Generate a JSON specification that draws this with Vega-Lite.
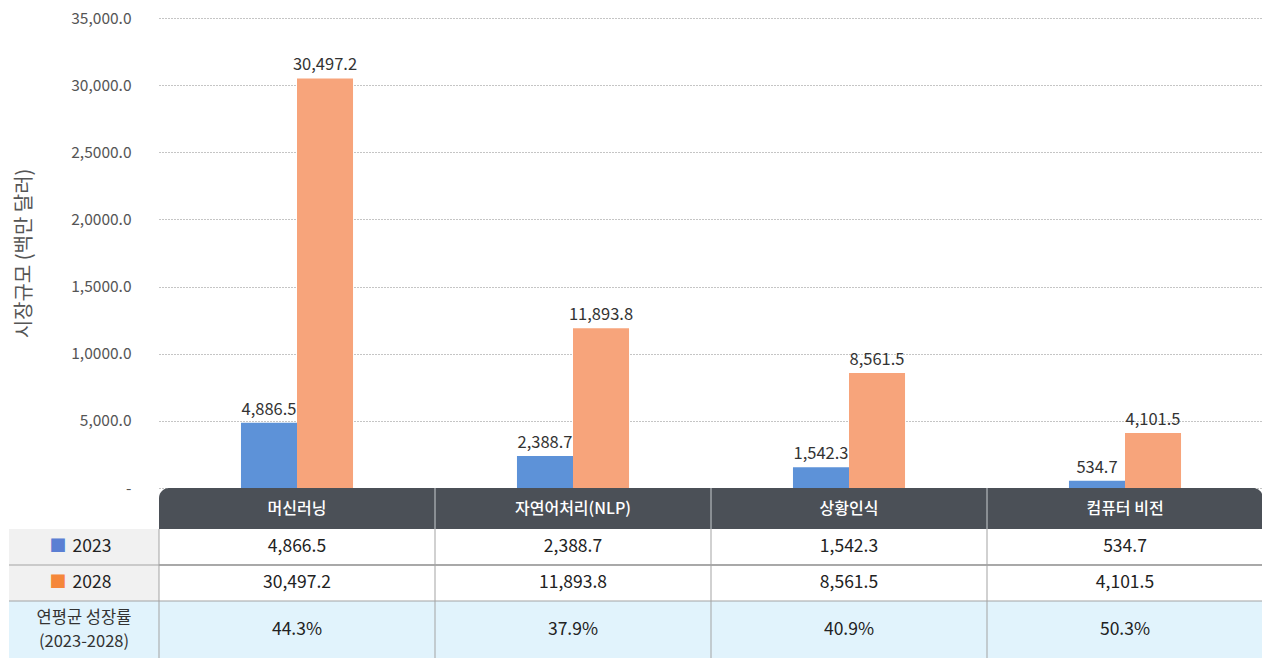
{
  "$schema": "https://vega.github.io/schema/vega-lite/v6.json",
  "padding": {"left": 8, "top": 11, "right": 0, "bottom": 0},
  "background": "white",
  "config": {
    "font": "Noto Sans CJK KR",
    "view": {"stroke": null},
    "concat": {"spacing": 0}
  },
  "datasets": {
    "bars": [
      {"cat": "머신러닝", "year": "2023", "value": 4866.5, "label": "4,886.5"},
      {"cat": "머신러닝", "year": "2028", "value": 30497.2, "label": "30,497.2"},
      {"cat": "자연어처리(NLP)", "year": "2023", "value": 2388.7, "label": "2,388.7"},
      {"cat": "자연어처리(NLP)", "year": "2028", "value": 11893.8, "label": "11,893.8"},
      {"cat": "상황인식", "year": "2023", "value": 1542.3, "label": "1,542.3"},
      {"cat": "상황인식", "year": "2028", "value": 8561.5, "label": "8,561.5"},
      {"cat": "컴퓨터 비전", "year": "2023", "value": 534.7, "label": "534.7"},
      {"cat": "컴퓨터 비전", "year": "2028", "value": 4101.5, "label": "4,101.5"}
    ],
    "cats": [
      {"cat": "머신러닝"}, {"cat": "자연어처리(NLP)"}, {"cat": "상황인식"}, {"cat": "컴퓨터 비전"}
    ],
    "cagr": [
      {"cat": "머신러닝", "row": "CAGR", "rate": "44.3%"},
      {"cat": "자연어처리(NLP)", "row": "CAGR", "rate": "37.9%"},
      {"cat": "상황인식", "row": "CAGR", "rate": "40.9%"},
      {"cat": "컴퓨터 비전", "row": "CAGR", "rate": "50.3%"}
    ],
    "rowlabels": [
      {"year": "2023"}, {"year": "2028"}
    ],
    "cagrlabel": [
      {"row": "CAGR", "label": "연평균 성장률\n(2023-2028)"}
    ]
  },
  "columns": 2,
  "spacing": 0,
  "bounds": "flush",
  "resolve": {"scale": {"x": "independent", "y": "independent", "color": "independent"}},
  "concat": [
    {
      "width": 150, "height": 470,
      "data": {"name": "rowlabels"},
      "mark": {"type": "text", "text": " ", "opacity": 0},
      "encoding": {}
    },
    {
      "width": 1104, "height": 470,
      "data": {"name": "bars"},
      "encoding": {
        "x": {"field": "cat", "type": "nominal", "scale": {"domain": ["머신러닝", "자연어처리(NLP)", "상황인식", "컴퓨터 비전"], "paddingInner": 0.594, "paddingOuter": 0.297}, "axis": null},
        "xOffset": {"field": "year", "type": "nominal", "scale": {"domain": ["2023", "2028"], "paddingInner": 0, "paddingOuter": 0}},
        "y": {
          "field": "value", "type": "quantitative",
          "scale": {"domain": [0, 35000], "nice": false},
          "axis": {
            "values": [0, 5000, 10000, 15000, 20000, 25000, 30000, 35000],
            "labelExpr": "datum.value == 0 ? '-' : datum.value == 5000 ? '5,000.0' : datum.value == 10000 ? '1,0000.0' : datum.value == 15000 ? '1,5000.0' : datum.value == 20000 ? '2,0000.0' : datum.value == 25000 ? '2,5000.0' : datum.value == 30000 ? '30,000.0' : '35,000.0'",
            "grid": true, "gridDash": [1, 2], "gridColor": "#8a8a8a", "gridWidth": 1,
            "domain": false, "ticks": false,
            "labelPadding": 28, "labelColor": "#555555", "labelFontSize": 15.5,
            "title": "시장규모 (백만 달러)", "titleFontSize": 20, "titleColor": "#555555", "titleFontWeight": "normal", "titlePadding": 36
          }
        }
      },
      "layer": [
        {
          "mark": {"type": "bar"},
          "encoding": {
            "color": {"field": "year", "type": "nominal", "scale": {"domain": ["2023", "2028"], "range": ["#5d92d8", "#f7a47b"]}, "legend": null}
          }
        },
        {
          "mark": {"type": "text", "baseline": "bottom", "dy": -5, "fontSize": 16.5, "color": "#333333"},
          "encoding": {"text": {"field": "label"}}
        }
      ]
    },
    {
      "width": 150, "height": 41,
      "data": {"name": "rowlabels"},
      "mark": {"type": "text", "text": " ", "opacity": 0},
      "encoding": {}
    },
    {
      "width": 1104, "height": 41,
      "data": {"name": "cats"},
      "encoding": {
        "x": {"field": "cat", "type": "nominal", "scale": {"domain": ["머신러닝", "자연어처리(NLP)", "상황인식", "컴퓨터 비전"], "paddingInner": 0, "paddingOuter": 0}, "axis": null}
      },
      "layer": [
        {"transform": [{"filter": "datum.cat == '머신러닝'"}], "mark": {"type": "rect", "color": "#4b5057", "cornerRadiusTopLeft": 10}},
        {"transform": [{"filter": "datum.cat != '머신러닝' && datum.cat != '컴퓨터 비전'"}], "mark": {"type": "rect", "color": "#4b5057"}},
        {"transform": [{"filter": "datum.cat == '컴퓨터 비전'"}], "mark": {"type": "rect", "color": "#4b5057", "cornerRadiusTopRight": 10}},
        {"transform": [{"filter": "datum.cat != '머신러닝'"}], "mark": {"type": "rule", "color": "#c9cdd1", "strokeWidth": 1},
         "encoding": {"x": {"field": "cat", "type": "nominal", "bandPosition": 0}}},
        {"mark": {"type": "text", "color": "white", "fontSize": 16, "fontWeight": 500}, "encoding": {"text": {"field": "cat"}}}
      ]
    },
    {
      "width": 150, "height": 72,
      "data": {"name": "rowlabels"},
      "encoding": {
        "y": {"field": "year", "type": "nominal", "scale": {"domain": ["2023", "2028"], "paddingInner": 0, "paddingOuter": 0}, "axis": null}
      },
      "layer": [
        {"mark": {"type": "rect", "color": "#f1f1f1"}},
        {"transform": [{"filter": "datum.year == '2028'"}], "mark": {"type": "rule", "color": "#a3a3a3", "strokeWidth": 1},
         "encoding": {"y": {"field": "year", "type": "nominal", "bandPosition": 0}}},
        {"mark": {"type": "text", "text": "■", "fontSize": 17, "dx": -26},
         "encoding": {"color": {"condition": {"test": "datum.year == '2023'", "value": "#5b7fd3"}, "value": "#f5873a"}}},
        {"mark": {"type": "text", "fontSize": 17.5, "color": "#222222", "dx": 8}, "encoding": {"text": {"field": "year"}}}
      ]
    },
    {
      "width": 1104, "height": 72,
      "data": {"name": "bars"},
      "encoding": {
        "x": {"field": "cat", "type": "nominal", "scale": {"domain": ["머신러닝", "자연어처리(NLP)", "상황인식", "컴퓨터 비전"], "paddingInner": 0, "paddingOuter": 0}, "axis": null},
        "y": {"field": "year", "type": "nominal", "scale": {"domain": ["2023", "2028"], "paddingInner": 0, "paddingOuter": 0}, "axis": null}
      },
      "layer": [
        {"mark": {"type": "rect", "color": "white"}},
        {"transform": [{"filter": "datum.year == '2028'"}], "mark": {"type": "rule", "color": "#a3a3a3", "strokeWidth": 1},
         "encoding": {"x": null, "y": {"field": "year", "type": "nominal", "bandPosition": 0}}},
        {"transform": [{"filter": "datum.year == '2023'"}], "mark": {"type": "rule", "color": "#a3a3a3", "strokeWidth": 1},
         "encoding": {"y": null, "x": {"field": "cat", "type": "nominal", "bandPosition": 0}}},
        {"mark": {"type": "text", "fontSize": 17.5, "color": "#222222"}, "encoding": {"text": {"field": "value", "type": "quantitative", "format": ",.1f"}}}
      ]
    },
    {
      "width": 150, "height": 57,
      "data": {"name": "cagrlabel"},
      "encoding": {
        "y": {"field": "row", "type": "nominal", "scale": {"paddingInner": 0, "paddingOuter": 0}, "axis": null}
      },
      "layer": [
        {"mark": {"type": "rect", "color": "#e1f3fc"}},
        {"mark": {"type": "rule", "color": "#a3a3a3", "strokeWidth": 1},
         "encoding": {"y": {"field": "row", "type": "nominal", "bandPosition": 0}}},
        {"mark": {"type": "text", "fontSize": 16.5, "color": "#333333", "lineBreak": "\n", "lineHeight": 24, "dy": -12}, "encoding": {"text": {"field": "label"}}}
      ]
    },
    {
      "width": 1104, "height": 57,
      "data": {"name": "cagr"},
      "encoding": {
        "x": {"field": "cat", "type": "nominal", "scale": {"domain": ["머신러닝", "자연어처리(NLP)", "상황인식", "컴퓨터 비전"], "paddingInner": 0, "paddingOuter": 0}, "axis": null},
        "y": {"field": "row", "type": "nominal", "scale": {"paddingInner": 0, "paddingOuter": 0}, "axis": null}
      },
      "layer": [
        {"mark": {"type": "rect", "color": "#e1f3fc"}},
        {"transform": [{"filter": "datum.cat == '머신러닝'"}], "mark": {"type": "rule", "color": "#a3a3a3", "strokeWidth": 1},
         "encoding": {"x": null, "y": {"field": "row", "type": "nominal", "bandPosition": 0}}},
        {"mark": {"type": "rule", "color": "#a3a3a3", "strokeWidth": 1},
         "encoding": {"y": null, "x": {"field": "cat", "type": "nominal", "bandPosition": 0}}},
        {"mark": {"type": "text", "fontSize": 17.5, "color": "#222222"}, "encoding": {"text": {"field": "rate"}}}
      ]
    }
  ]
}
